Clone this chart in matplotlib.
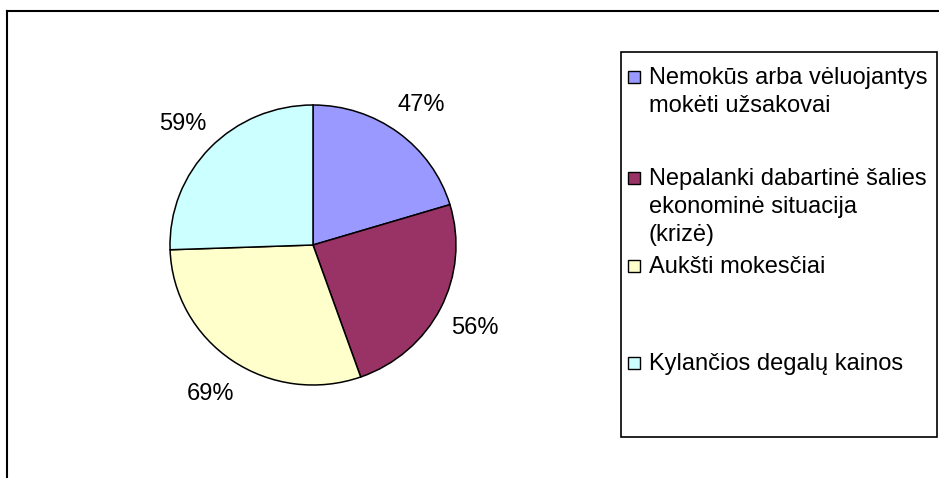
import matplotlib
matplotlib.use("Agg")
import matplotlib.pyplot as plt
from matplotlib.patches import Rectangle
from matplotlib.lines import Line2D

plt.rcParams['font.family'] = ['Liberation Sans', 'DejaVu Sans']

# duomenys
categories = ['Nemokūs arba vėluojantys\nmokėti užsakovai',
              'Nepalanki dabartinė šalies\nekonominė situacija\n(krizė)',
              'Aukšti mokesčiai',
              'Kylančios degalų kainos']
values = [47, 56, 69, 59]
colors = ['#9999FF', '#993366', '#FFFFCC', '#CCFFFF']
legend_y = [77, 178, 266, 363]  # legend row centres (px from top)

W, H = 939, 478
fig = plt.figure(figsize=(W / 100, H / 100), dpi=100)

def fx(px):
    return px / W

def fy(py):
    return 1 - py / H

# outer frame (only top and left edges visible)
fig.add_artist(Line2D([fx(7), fx(939)], [fy(11), fy(11)], color='black', lw=1.5))
fig.add_artist(Line2D([fx(7), fx(7)], [fy(11), fy(478)], color='black', lw=1.5))

# pie
cx, cy, rx, ry = 313, 245, 143, 140
ax = fig.add_axes([fx(cx - rx), fy(cy + ry), (2 * rx) / W, (2 * ry) / H])
wedges, texts = ax.pie(values, labels=[f'{v}%' for v in values], colors=colors,
                       startangle=90, counterclock=False, labeldistance=1.27,
                       wedgeprops=dict(edgecolor='black', linewidth=1.1),
                       textprops=dict(fontsize=17, color='black'))
for t in texts:
    t.set_ha('center')
    t.set_va('center_baseline')
ax.set_aspect('auto')
ax.set_xlim(-1, 1)
ax.set_ylim(-1, 1)
ax.axis('off')

# legend box
fig.add_artist(Rectangle((fx(621), fy(437)), fx(937) - fx(621), fy(52) - fy(437),
                         transform=fig.transFigure, facecolor='white',
                         edgecolor='black', lw=1.2))
for lab, w, y in zip(categories, wedges, legend_y):
    fig.add_artist(Rectangle((fx(628), fy(y + 6)), fx(12), fy(y - 6) - fy(y + 6),
                             transform=fig.transFigure, facecolor=w.get_facecolor(),
                             edgecolor='black', lw=1))
    fig.text(fx(649), fy(y - 10), lab, ha='left', va='top', fontsize=17,
             linespacing=1.35)

fig.savefig('out.png', dpi=100)
